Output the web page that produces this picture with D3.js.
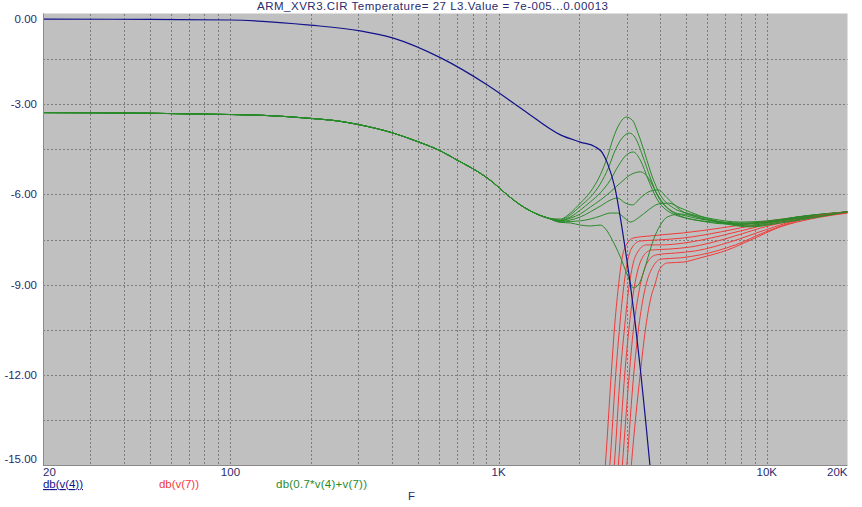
<!DOCTYPE html>
<html><head><meta charset="utf-8">
<script src="https://cdn.jsdelivr.net/npm/d3@7"></script>
<style>body{margin:0;background:#fff}svg{display:block}text{font-family:"Liberation Sans",Arial,sans-serif}</style>
</head><body><svg id="c" width="862" height="507"></svg>
<script>
const title = "ARM_XVR3.CIR Temperature= 27  L3.Value = 7e-005...0.00013";
const xTickValues = [20, 100, 1000, 10000, 20000];
const xTickLabels = ["20", "100", "1K", "10K", "20K"];
const yTickValues = [0, -3, -6, -9, -12, -15];
const yTickLabels = ["0.00", "-3.00", "-6.00", "-9.00", "-12.00", "-15.00"];
const yGridValues = [-1.5, -3, -4.5, -6, -7.5, -9, -10.5, -12, -13.5];
const legendLabels = ["db(v(4))", "db(v(7))", "db(0.7*v(4)+v(7))"];
const xAxisName = "F";

// db(v(4)) : [frequency Hz, dB]
const blueCurve = [[20,-0.17],[50,-0.18],[100,-0.20],[198,-0.37],[305,-0.56],[405,-0.80],[606,-1.45],[908,-2.36],[1236,-3.19],[1700,-4.02],[2017,-4.26],[2296,-4.42],[2438,-4.62],[2545,-4.96],[2726,-5.85],[2845,-6.78],[2970,-7.85],[3100,-9.01],[3237,-10.34],[3380,-11.84],[3526,-13.44],[3666,-15.0],[3800,-16.5]];

// db(v(7)) : one curve per L3 step
const redSteps = [
 [[2457,-15.83],[2500,-15.0],[2632,-11.94],[2701,-10.51],[2796,-9.08],[2893,-8.08],[3020,-7.62],[3180,-7.45],[3680,-7.38],[4887,-7.28],[6715,-7.12],[9470,-6.92],[13354,-6.75],[20000,-6.58]],
 [[2554,-15.83],[2599,-15.0],[2736,-11.94],[2820,-10.51],[2918,-9.18],[3020,-8.25],[3153,-7.75],[3377,-7.55],[3842,-7.52],[4887,-7.45],[6715,-7.25],[9470,-6.98],[13354,-6.78],[20000,-6.58]],
 [[2655,-15.83],[2701,-15.0],[2844,-11.94],[2943,-10.51],[3046,-9.25],[3153,-8.41],[3320,-7.88],[3556,-7.68],[4080,-7.68],[4887,-7.62],[6715,-7.38],[9470,-7.05],[13354,-6.78],[20000,-6.58]],
 [[2748,-15.83],[2796,-15.0],[2956,-11.94],[3059,-10.51],[3180,-9.28],[3291,-8.58],[3466,-8.05],[3712,-7.85],[4296,-7.82],[5190,-7.75],[7010,-7.48],[9470,-7.12],[13354,-6.82],[20000,-6.58]],
 [[2844,-15.83],[2893,-15.0],[3073,-11.94],[3180,-10.51],[3320,-9.35],[3436,-8.71],[3617,-8.21],[3875,-8.01],[4562,-7.95],[5418,-7.88],[7318,-7.58],[9885,-7.18],[13354,-6.82],[20000,-6.58]],
 [[2956,-15.83],[3007,-15.0],[3194,-11.94],[3320,-10.51],[3466,-9.41],[3586,-8.85],[3776,-8.38],[4045,-8.15],[4762,-8.11],[5655,-8.01],[7639,-7.68],[9885,-7.25],[13354,-6.85],[20000,-6.62]],
 [[3073,-15.83],[3126,-15.0],[3377,-11.94],[3525,-10.51],[3680,-9.51],[3842,-8.95],[3976,-8.51],[4259,-8.28],[4887,-8.25],[5655,-8.11],[7132,-7.85],[8690,-7.52],[11245,-7.08],[14552,-6.82],[20000,-6.62]]
];

// db(0.7*v(4)+v(7)) : shared low-frequency part, then one tail per L3 step
const greenLow = [[20,-3.28],[50,-3.30],[79,-3.33],[132,-3.37],[198,-3.47],[257,-3.57],[305,-3.69],[401,-3.95],[501,-4.25],[606,-4.55],[707,-4.88],[818,-5.19],[947,-5.58],[1059,-5.96],[1205,-6.35],[1370,-6.63],[1532,-6.79]];
const greenSteps = [
 [[1699,-6.82],[1851,-6.62],[2017,-6.29],[2198,-5.92],[2395,-5.35],[2544,-4.76],[2678,-4.12],[2820,-3.66],[2994,-3.43],[3153,-3.53],[3320,-3.99],[3525,-4.69],[3744,-5.42],[4010,-6.02],[4484,-6.45],[5190,-6.65],[6323,-6.82],[7975,-6.92],[10057,-6.88],[13012,-6.75],[20000,-6.58]],
 [[1699,-6.85],[1851,-6.68],[2017,-6.39],[2198,-6.09],[2395,-5.65],[2566,-5.12],[2724,-4.52],[2893,-4.12],[3073,-3.96],[3235,-4.12],[3436,-4.69],[3680,-5.45],[3942,-6.09],[4370,-6.52],[5190,-6.75],[6323,-6.88],[7975,-6.95],[10057,-6.92],[13012,-6.75],[20000,-6.58]],
 [[1699,-6.87],[1851,-6.75],[2017,-6.52],[2198,-6.25],[2395,-5.95],[2610,-5.52],[2796,-5.05],[2994,-4.69],[3180,-4.59],[3377,-4.86],[3617,-5.52],[3875,-6.12],[4223,-6.52],[5190,-6.82],[6323,-6.92],[7975,-6.98],[10057,-6.92],[13012,-6.75],[20000,-6.58]],
 [[1699,-6.88],[1851,-6.79],[2017,-6.65],[2198,-6.42],[2395,-6.19],[2610,-5.92],[2844,-5.62],[3099,-5.35],[3377,-5.25],[3617,-5.45],[3875,-5.95],[4223,-6.42],[4762,-6.72],[5655,-6.88],[7010,-6.98],[8690,-6.98],[11245,-6.85],[20000,-6.58]],
 [[1699,-6.90],[1851,-6.85],[2017,-6.75],[2198,-6.58],[2395,-6.39],[2610,-6.19],[2772,-6.12],[2969,-6.29],[3153,-6.35],[3377,-6.12],[3680,-5.89],[3942,-5.85],[4223,-6.09],[4762,-6.52],[5655,-6.78],[7010,-6.95],[8690,-7.02],[11245,-6.88],[20000,-6.58]],
 [[1699,-6.92],[1851,-6.90],[2017,-6.88],[2198,-6.82],[2395,-6.72],[2610,-6.62],[2772,-6.62],[2918,-6.75],[3099,-6.92],[3320,-6.78],[3617,-6.52],[3942,-6.32],[4296,-6.29],[4762,-6.45],[5655,-6.72],[7010,-6.95],[8690,-7.05],[11245,-6.92],[20000,-6.58]],
 [[1699,-6.93],[1851,-6.95],[2017,-7.02],[2198,-7.05],[2395,-7.02],[2522,-7.18],[2655,-7.52],[2844,-8.08],[3020,-8.68],[3180,-9.11],[3320,-9.01],[3466,-8.61],[3617,-8.05],[3776,-7.52],[4010,-7.02],[4259,-6.75],[4762,-6.65],[5655,-6.78],[7010,-6.98],[8690,-7.08],[11245,-6.95],[20000,-6.58]]
];

const colors = {blue: "#12128a", red: "#f03a3a", green: "#2a8a2a", text: "#2a2a6e", grid: "#7c7c7c"};

const svg = d3.select("#c");
const L = 43, R = 847.5, T = 14, B = 465;
const x = d3.scaleLog().domain([20, 20000]).range([L, R]);
const y = d3.scaleLinear().domain([0, -15]).range([T, B]);

// title
svg.append("text").attr("x", 257).attr("y", 10)
  .attr("font-size", 11.5).attr("fill", colors.text)
  .attr("textLength", 351).attr("lengthAdjust", "spacing").text(title);

// plot background
svg.append("rect").attr("x", L).attr("y", T - 0.5).attr("width", R - L).attr("height", B - T + 0.5)
  .attr("fill", "#c0c0c0");

// grid
const px = v => Math.round(v) + 0.5;
const vGrid = x.ticks().filter(v => v > 20 && v < 20000);
svg.append("g").selectAll("line").data(vGrid).join("line")
  .attr("x1", d => px(x(d))).attr("x2", d => px(x(d))).attr("y1", T).attr("y2", B)
  .attr("stroke", colors.grid).attr("stroke-dasharray", "2,2");
svg.append("g").selectAll("line").data(yGridValues).join("line")
  .attr("y1", d => px(y(d))).attr("y2", d => px(y(d))).attr("x1", L).attr("x2", R)
  .attr("stroke", colors.grid).attr("stroke-dasharray", "2,2");

// frame
svg.append("line").attr("x1", L + 0.5).attr("x2", L + 0.5).attr("y1", T - 0.5).attr("y2", B + 1).attr("stroke", "#8a8a8a");
svg.append("line").attr("x1", L).attr("x2", R).attr("y1", B + 0.5).attr("y2", B + 0.5).attr("stroke", "#8a8a8a");

// clip
svg.append("clipPath").attr("id", "clip").append("rect")
  .attr("x", L + 1).attr("y", T - 0.5).attr("width", R - L - 1).attr("height", B - T + 0.5);

const line = d3.line().x(d => x(d[0])).y(d => y(d[1])).curve(d3.curveMonotoneX);
const plot = svg.append("g").attr("clip-path", "url(#clip)");
for (let i = 0; i < redSteps.length; i++) {
  plot.append("path").attr("d", line(redSteps[i])).attr("fill", "none").attr("stroke", colors.red).attr("stroke-width", 1);
  plot.append("path").attr("d", line(greenLow.concat(greenSteps[i]))).attr("fill", "none").attr("stroke", colors.green).attr("stroke-width", 1);
}
plot.append("path").attr("d", line(blueCurve)).attr("fill", "none").attr("stroke", colors.blue).attr("stroke-width", 1.2);

// y labels
svg.append("g").selectAll("text").data(yTickValues).join("text")
  .attr("x", 37).attr("y", d => Math.min(Math.max(y(d), T + 5), B - 6) + 4)
  .attr("text-anchor", "end").attr("font-size", 11.5).attr("fill", colors.text)
  .text((d, i) => yTickLabels[i]);

// x labels
svg.append("g").selectAll("text").data(xTickValues).join("text")
  .attr("x", d => x(d)).attr("y", 476)
  .attr("text-anchor", (d, i) => i === 0 ? "start" : (i === xTickValues.length - 1 ? "end" : "middle"))
  .attr("font-size", 11.5).attr("fill", colors.text)
  .text((d, i) => xTickLabels[i]);

// legend
const legX = [43, 159, 276];
const legW = [40, 40, 91];
const legC = [colors.blue, colors.red, colors.green];
legendLabels.forEach((t, i) => {
  svg.append("text").attr("x", legX[i]).attr("y", 488).attr("font-size", 11.5)
    .attr("textLength", legW[i]).attr("lengthAdjust", "spacing")
    .attr("fill", legC[i]).attr("text-decoration", i === 0 ? "underline" : null).text(t);
});
svg.append("text").attr("x", 411.5).attr("y", 500).attr("text-anchor", "middle")
  .attr("font-size", 11.5).attr("fill", colors.text).text(xAxisName);
</script></body></html>
